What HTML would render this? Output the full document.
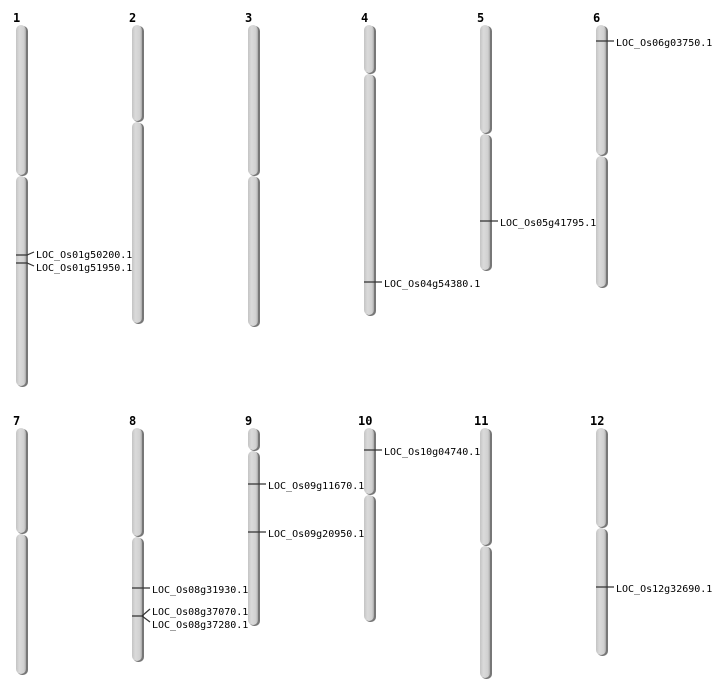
<!DOCTYPE html>
<html><head><style>body{margin:0;background:#fff}svg{display:block}
text{font-family:"DejaVu Sans Mono","Liberation Mono",monospace;font-size:10px;fill:#000}
.n{font-family:"DejaVu Sans Mono","Liberation Mono",monospace;font-size:12px;font-weight:bold}
</style></head><body>
<svg width="712" height="700" viewBox="0 0 712 700" xmlns="http://www.w3.org/2000/svg">
<defs><linearGradient id="g" x1="0" x2="1" y1="0" y2="0">
<stop offset="0" stop-color="#c4c4c4"/><stop offset="0.35" stop-color="#dadada"/><stop offset="0.8" stop-color="#d0d0d0"/><stop offset="1" stop-color="#a8a8a8"/></linearGradient>
<g id="d"></g></defs>
<g id="chr">
<!-- segments: x,y1,y2 -->
</g>
<g>
<script type="text/plain"></script>
</g>
<g fill="url(#g)">
<g fill="#777">
<rect x="17" y="26" width="11" height="150" rx="5"/><rect x="17" y="177" width="11" height="210" rx="5"/>
<rect x="133" y="26" width="11" height="96" rx="5"/><rect x="133" y="123" width="11" height="201" rx="5"/>
<rect x="249" y="26" width="11" height="150" rx="5"/><rect x="249" y="177" width="11" height="150" rx="5"/>
<rect x="365" y="26" width="11" height="48" rx="5"/><rect x="365" y="75" width="11" height="241" rx="5"/>
<rect x="481" y="26" width="11" height="108" rx="5"/><rect x="481" y="135" width="11" height="136" rx="5"/>
<rect x="597" y="26" width="11" height="130" rx="5"/><rect x="597" y="157" width="11" height="131" rx="5"/>
<rect x="17" y="429" width="11" height="105" rx="5"/><rect x="17" y="535" width="11" height="140" rx="5"/>
<rect x="133" y="429" width="11" height="108" rx="5"/><rect x="133" y="538" width="11" height="124" rx="5"/>
<rect x="249" y="429" width="11" height="22" rx="5"/><rect x="249" y="452" width="11" height="174" rx="5"/>
<rect x="365" y="429" width="11" height="66" rx="5"/><rect x="365" y="496" width="11" height="126" rx="5"/>
<rect x="481" y="429" width="11" height="117" rx="5"/><rect x="481" y="547" width="11" height="132" rx="5"/>
<rect x="597" y="429" width="11" height="99" rx="5"/><rect x="597" y="529" width="11" height="127" rx="5"/>
</g>
<rect x="16" y="25" width="10" height="150" rx="5"/><rect x="16" y="176" width="10" height="210" rx="5"/>
<rect x="132" y="25" width="10" height="96" rx="5"/><rect x="132" y="122" width="10" height="201" rx="5"/>
<rect x="248" y="25" width="10" height="150" rx="5"/><rect x="248" y="176" width="10" height="150" rx="5"/>
<rect x="364" y="25" width="10" height="48" rx="5"/><rect x="364" y="74" width="10" height="241" rx="5"/>
<rect x="480" y="25" width="10" height="108" rx="5"/><rect x="480" y="134" width="10" height="136" rx="5"/>
<rect x="596" y="25" width="10" height="130" rx="5"/><rect x="596" y="156" width="10" height="131" rx="5"/>
<rect x="16" y="428" width="10" height="105" rx="5"/><rect x="16" y="534" width="10" height="140" rx="5"/>
<rect x="132" y="428" width="10" height="108" rx="5"/><rect x="132" y="537" width="10" height="124" rx="5"/>
<rect x="248" y="428" width="10" height="22" rx="5"/><rect x="248" y="451" width="10" height="174" rx="5"/>
<rect x="364" y="428" width="10" height="66" rx="5"/><rect x="364" y="495" width="10" height="126" rx="5"/>
<rect x="480" y="428" width="10" height="117" rx="5"/><rect x="480" y="546" width="10" height="132" rx="5"/>
<rect x="596" y="428" width="10" height="99" rx="5"/><rect x="596" y="528" width="10" height="127" rx="5"/>
</g>
<g class="n">
<text class="n" x="13" y="22">1</text><text class="n" x="129" y="22">2</text><text class="n" x="245" y="22">3</text>
<text class="n" x="361" y="22">4</text><text class="n" x="477" y="22">5</text><text class="n" x="593" y="22">6</text>
<text class="n" x="13" y="425">7</text><text class="n" x="129" y="425">8</text><text class="n" x="245" y="425">9</text>
<text class="n" x="358" y="425">10</text><text class="n" x="474" y="425">11</text><text class="n" x="590" y="425">12</text>
</g>
<g stroke="#333" stroke-width="1.2" fill="none">
<path d="M16 255H27L34 252M16 263H27L34 266"/>
<path d="M364 282H382"/>
<path d="M480 221H498"/>
<path d="M596 41H614"/>
<path d="M364 450H382"/>
<path d="M248 484H266M248 532H266"/>
<path d="M132 588H150M132 616H142L150 609M142 616L150 622"/>
<path d="M596 587H614"/>
</g>
<text x="36" y="258">LOC_Os01g50200.1</text>
<text x="36" y="271">LOC_Os01g51950.1</text>
<text x="384" y="287">LOC_Os04g54380.1</text>
<text x="500" y="226">LOC_Os05g41795.1</text>
<text x="616" y="46">LOC_Os06g03750.1</text>
<text x="384" y="455">LOC_Os10g04740.1</text>
<text x="268" y="489">LOC_Os09g11670.1</text>
<text x="268" y="537">LOC_Os09g20950.1</text>
<text x="152" y="593">LOC_Os08g31930.1</text>
<text x="152" y="615">LOC_Os08g37070.1</text>
<text x="152" y="628">LOC_Os08g37280.1</text>
<text x="616" y="592">LOC_Os12g32690.1</text>
</svg>
</body></html>
